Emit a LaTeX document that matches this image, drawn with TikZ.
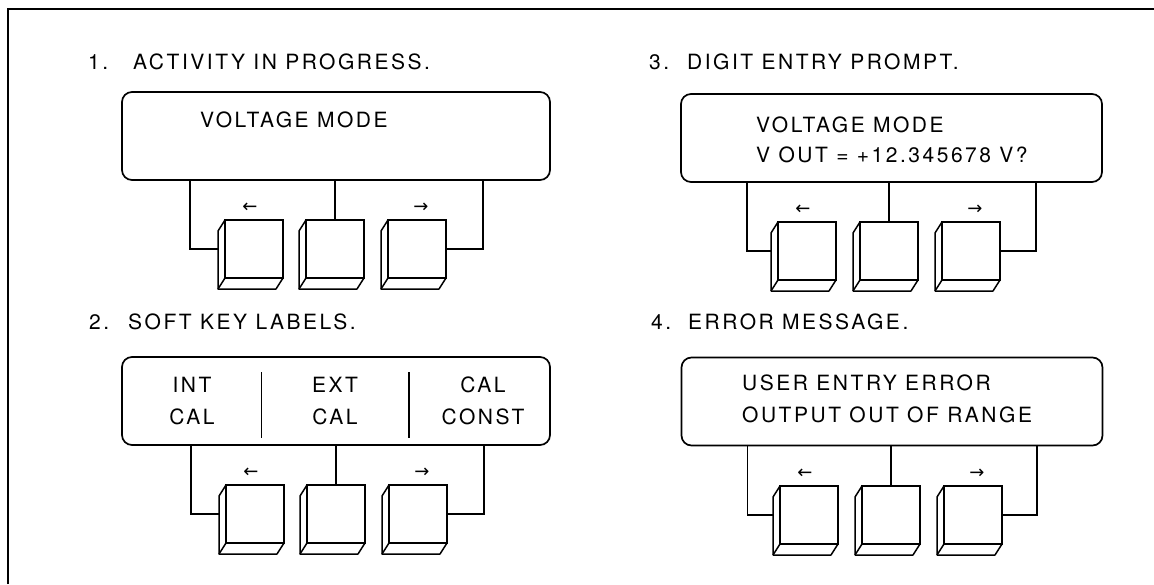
\documentclass[tikz,border=0pt]{standalone}
\usepackage{fontspec}
\setmainfont{TeX Gyre Heros}[LetterSpace=12]
\newfontfamily\arrowfont{DejaVu Sans}
\begin{document}
\newcommand\keycap[3]{%
  \node[keyface, anchor=north west] (#1) at (#2,#3) {};
  \draw[keyline] (#1.north west) -- ++(-7,11) -- ++(0,58) -- ++(58,0) -- (#1.south east);
  \draw[keyline] (#1.south west) -- ++(-7,11);
}
\begin{tikzpicture}[x=1pt,y=-1pt,
  lbl/.style={anchor=west, inner sep=0pt, font=\fontsize{21}{26}\selectfont},
  clbl/.style={inner sep=0pt, align=center, font=\fontsize{21}{31.5}\selectfont},
  disp/.style={draw, line width=1.7pt, rounded corners=10pt, inner sep=0pt, minimum height=88pt},
  keyface/.style={draw, line width=1.5pt, minimum width=58pt, minimum height=58pt, inner sep=0pt, outer sep=0pt},
  keyline/.style={line width=1.5pt, line join=round},
  wire/.style={line width=1.3pt},
  sep/.style={line width=1.2pt},
  arr/.style={inner sep=0pt, font=\arrowfont\fontsize{18}{18}\selectfont}]

\useasboundingbox (0,0) rectangle (1154,584);
\draw[line width=1.7pt] (8,584) -- (8,9) -- (1154,9);

% ---------- Panel 1 ----------
\node[lbl] (n1) at (88,62) {1.};
\node[lbl] (h1) at (133,62) {ACTIVITY IN PROGRESS.};
\node[disp, minimum width=428pt] (d1) at (336,136) {};
\node[lbl] (t1) at (200,120) {VOLTAGE MODE};
\keycap{k11}{225}{220}
\keycap{k12}{306}{220}
\keycap{k13}{388}{220}
\draw[wire] ([xshift=-146pt]d1.south) |- ([xshift=-7pt]k11.west);
\draw[wire] (d1.south -| k12.north) -- (k12.north);
\draw[wire] ([xshift=147pt]d1.south) |- (k13.east);
\node[arr] (a11) at ([xshift=-4pt,yshift=12pt]k11.north) {←};
\node[arr] (a13) at ([xshift=4pt,yshift=12pt]k13.north) {→};

% ---------- Panel 2 ----------
\node[lbl] (n2) at (89,322) {2.};
\node[lbl] (h2) at (128,322) {SOFT KEY LABELS.};
\node[disp, minimum width=428pt] (d2) at (336,401) {};
\node[clbl] (s1) at (192,401) {INT\\CAL};
\node[clbl] (s2) at (335,401) {EXT\\CAL};
\node[clbl] (s3) at (483,401) {CAL\\CONST};
\draw[sep] (261.5,372) -- (261.5,438);
\draw[sep] (409,372) -- (409,438);
\keycap{k21}{226}{485}
\keycap{k22}{307}{485}
\keycap{k23}{389}{485}
\draw[wire] ([xshift=-145pt]d2.south) |- ([xshift=-7pt]k21.west);
\draw[wire] (d2.south -| k22.north) -- (k22.north);
\draw[wire] ([xshift=148pt]d2.south) |- (k23.east);
\node[arr] (a21) at ([xshift=-4pt,yshift=12pt]k21.north) {←};
\node[arr] (a23) at ([xshift=4pt,yshift=12pt]k23.north) {→};

% ---------- Panel 3 ----------
\node[lbl] (n3) at (649,62) {3.};
\node[lbl] (h3) at (687,62) {DIGIT ENTRY PROMPT.};
\node[disp, minimum width=421pt] (d3) at (891.5,138) {};
\node[lbl] (t31) at (756,125) {VOLTAGE MODE};
\node[lbl] (t32) at (756,155) {V OUT = +12.345678 V?};
\keycap{k31}{778}{222}
\keycap{k32}{860}{222}
\keycap{k33}{942}{222}
\draw[wire] ([xshift=-144.5pt]d3.south) |- ([xshift=-7pt]k31.west);
\draw[wire] (d3.south -| k32.north) -- (k32.north);
\draw[wire] ([xshift=144.5pt]d3.south) |- (k33.east);
\node[arr] (a31) at ([xshift=-4pt,yshift=12pt]k31.north) {←};
\node[arr] (a33) at ([xshift=4pt,yshift=12pt]k33.north) {→};

% ---------- Panel 4 ----------
\node[lbl] (n4) at (651,322) {4.};
\node[lbl] (h4) at (688,322) {ERROR MESSAGE.};
\node[disp, minimum width=421pt] (d4) at (892,401.5) {};
\node[lbl] (t41) at (742,383) {USER ENTRY ERROR};
\node[lbl] (t42) at (742,415) {OUTPUT OUT OF RANGE};
\keycap{k41}{780}{486}
\keycap{k42}{862}{486}
\keycap{k43}{944}{486}
\draw[wire] ([xshift=-144.5pt]d4.south) |- ([xshift=-7pt]k41.west);
\draw[wire] (d4.south -| k42.north) -- (k42.north);
\draw[wire] ([xshift=145pt]d4.south) |- (k43.east);
\node[arr] (a41) at ([xshift=-4pt,yshift=12pt]k41.north) {←};
\node[arr] (a43) at ([xshift=4pt,yshift=12pt]k43.north) {→};
\end{tikzpicture}
\end{document}
